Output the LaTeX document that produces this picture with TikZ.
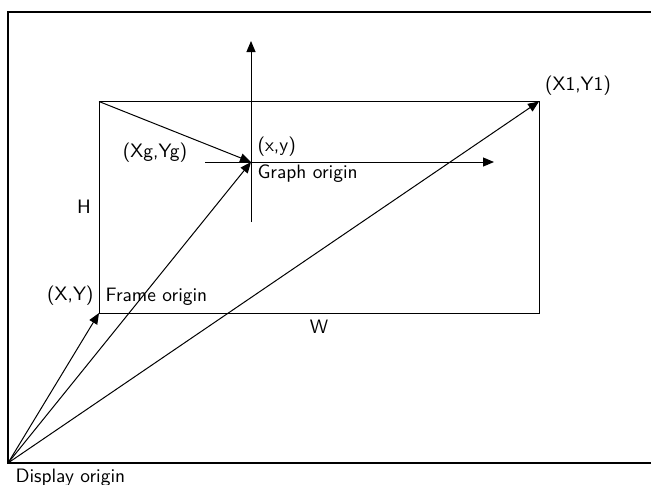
\documentclass[tikz,border=0pt]{standalone}
\usepackage{tikz}
\usetikzlibrary{arrows.meta,positioning,calc}

\tikzset{
  vec/.style={-{Triangle[length=5.5pt,width=4.5pt]},line width=0.5pt},
  lbl/.style={inner sep=0pt,font=\sffamily\fontsize{9.7}{11}\selectfont}
}

\begin{document}
\begin{tikzpicture}[x=0.5pt,y=-0.5pt,line width=0.5pt]
  \useasboundingbox (0,0) rectangle (651,484);
  % display border (open on the right)
  \draw[line width=1pt] (651,12) -- (8,12) -- (8,463) -- (651,463);
  \coordinate (disp) at (8,463);
  \coordinate (frameorg) at (99,313);
  \coordinate (frametl) at (99,101.5);
  \coordinate (x1y1) at (539,101.5);
  \coordinate (graphorg) at (251,162);
  % frame
  \draw (frameorg) rectangle (x1y1);
  % graph axes
  \coordinate (xaxisl) at (205,162);
  \coordinate (xaxisr) at (494,162);
  \coordinate (yaxisb) at (251,222);
  \coordinate (yaxist) at (251,41);
  \draw[vec] (xaxisl) -- (xaxisr);
  \draw[vec] (yaxisb) -- (yaxist);
  % vectors
  \draw[vec] (disp) -- (frameorg);
  \draw[vec] (disp) -- (graphorg);
  \draw[vec] (disp) -- (x1y1);
  \draw[vec] (frametl) -- (graphorg);
  % labels
  \node[lbl] (lx1y1) at (578,86) {(X1,Y1)};
  \node[lbl] (lxgyg) at (155,153) {(Xg,Yg)};
  \node[lbl,anchor=west] (lxy) at (257,147) {(x,y)};
  \node[lbl,anchor=west] (lgraph) at (257,174) {Graph origin};
  \node[lbl] (lh) at (84,207) {H};
  \node[lbl,anchor=east] (lXY) at (94,296) {(X,Y)};
  \node[lbl,anchor=west] (lframe) at (105,297) {Frame origin};
  \node[lbl] (lw) at (319,327) {W};
  \node[lbl,anchor=west] (ldisp) at (15,477.5) {Display origin};
\end{tikzpicture}
\end{document}
